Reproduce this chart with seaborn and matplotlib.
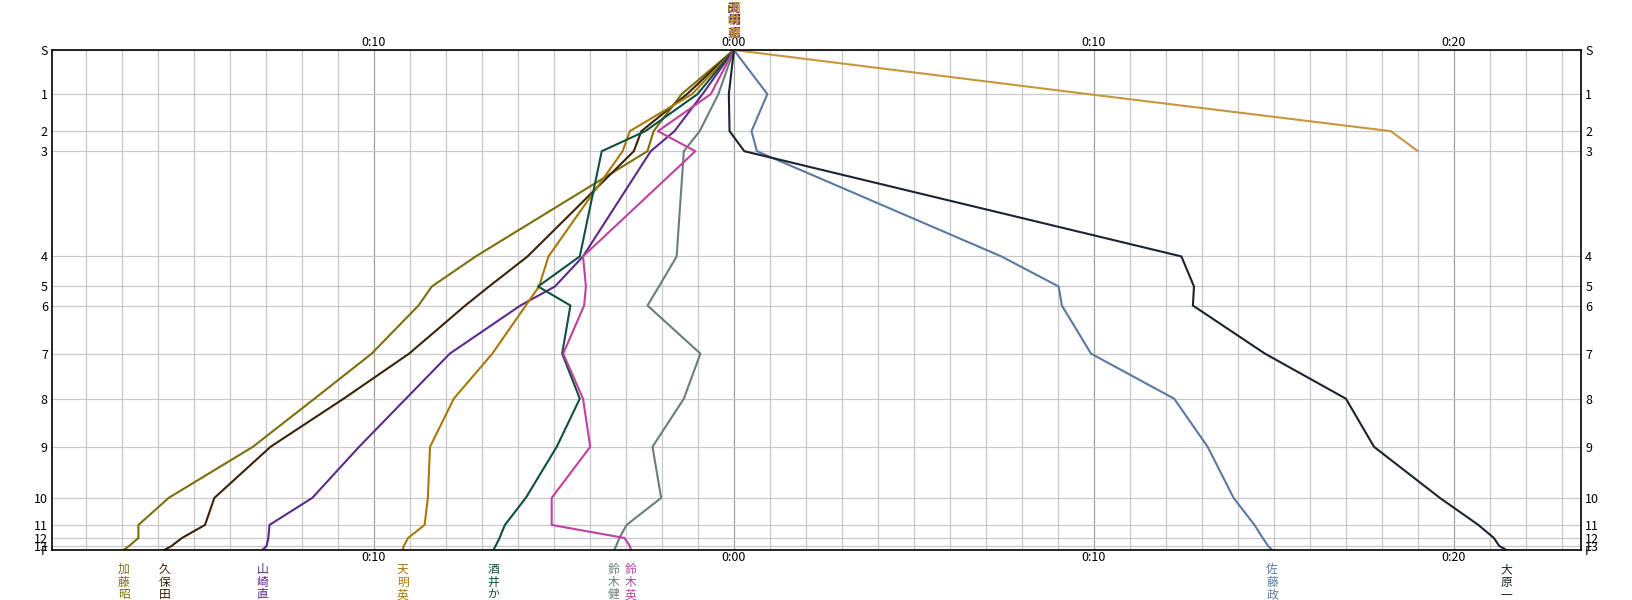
import numpy as np
import pandas as pd
import matplotlib
matplotlib.use("Agg")
import matplotlib.pyplot as plt
import matplotlib.transforms as mtransforms
from matplotlib.ticker import MultipleLocator
import seaborn as sns

# controls and their standard (cumulative) position, minutes
controls = ["S", "1", "2", "3", "4", "5", "6", "7", "8", "9", "10", "11", "12", "13", "F"]
std_pos = [0, 4.4, 8.1, 10.1, 20.6, 23.6, 25.5, 30.3, 34.8, 39.6, 44.7, 47.4, 48.7, 49.5, 49.9]

# time difference to the reference at each control, minutes
kato = [0, -1.45, -2.23, -2.40, -7.17, -8.39, -8.76, -10.06, -11.65, -13.36, -15.70, -16.54, -16.54, -16.80, -16.95]
kubota = [0, -1.30, -2.57, -2.78, -5.73, -6.80, -7.46, -9.02, -10.84, -12.87, -14.43, -14.69, -15.33, -15.62, -15.82]
yamazaki = [0, -0.87, -1.65, -2.31, -4.19, -4.97, -5.93, -7.89, -9.11, -10.41, -11.71, -12.90, -12.93, -12.98, -13.10]
tenmyo = [0, -1.16, -2.89, -3.09, -5.15, -5.41, -5.78, -6.71, -7.78, -8.44, -8.50, -8.59, -9.05, -9.17, -9.20]
sakai = [0, -1.01, -2.46, -3.67, -4.28, -5.44, -4.54, -4.77, -4.28, -4.92, -5.78, -6.36, -6.51, -6.62, -6.68]
suzuki_ken = [0, -0.43, -0.95, -1.39, -1.59, -2.08, -2.40, -0.93, -1.39, -2.26, -2.02, -2.98, -3.18, -3.27, -3.33]
suzuki_ei = [0, -0.64, -2.11, -1.07, -4.19, -4.11, -4.16, -4.74, -4.19, -3.99, -5.06, -5.06, -3.04, -2.89, -2.86]
sato = [0, 0.93, 0.49, 0.64, 7.43, 9.02, 9.11, 9.92, 12.23, 13.16, 13.88, 14.46, 14.69, 14.84, 14.95]
ohara = [0, -0.14, -0.12, 0.29, 12.43, 12.78, 12.75, 14.75, 17.00, 17.78, 19.61, 20.68, 21.11, 21.26, 21.46]
dnf = [0, 9.83, 18.25, 19.0]  # runner that stopped after control 3

names = ["加藤昭", "久保田", "山崎直", "天明英", "酒井か", "鈴木健", "鈴木英", "佐藤政", "大原一"]
series = [kato, kubota, yamazaki, tenmyo, sakai, suzuki_ken, suzuki_ei, sato, ohara]
colors = ["#7d6e08", "#3a2408", "#5c2a8c", "#a87808", "#0f5040", "#6a7e7e", "#c040a0", "#5a7aa0", "#1a2430"]

x_ticks = [-10, 0, 10, 20]
x_labels = ["0:10", "0:00", "0:10", "0:20"]

# long table for seaborn
rows = []
for nm, vals in zip(names, series):
    for c, p, v in zip(controls, std_pos, vals):
        rows.append({"runner": nm, "control": c, "pos": p, "diff": v})
for c, p, v in zip(controls, std_pos, dnf):
    rows.append({"runner": "棄権", "control": c, "pos": p, "diff": v})
df = pd.DataFrame(rows)

palette = dict(zip(names, colors))
palette["棄権"] = "#c89640"

sns.set_style("white")
plt.rcParams["font.family"] = ["Noto Sans CJK JP", "DejaVu Sans"]

fig = plt.figure(figsize=(16.33, 6), dpi=100)
ax = fig.add_axes([52 / 1633, 50 / 600, 1529 / 1633, 500 / 600])

# grid: every minute light, every 10 minutes darker, one line per control
ax.xaxis.set_minor_locator(MultipleLocator(1))
ax.grid(which="minor", axis="x", color="#c8c8c8", lw=0.9)
ax.grid(which="major", axis="x", color="#a0a0a0", lw=0.9)
ax.grid(which="major", axis="y", color="#c8c8c8", lw=0.9)
ax.set_axisbelow(True)

sns.lineplot(data=df, x="diff", y="pos", hue="runner", palette=palette,
             sort=False, estimator=None, legend=False, lw=1.5, ax=ax)

ax.set_xlim(-18.94, 23.53)
ax.set_ylim(std_pos[-1], 0)

ax.set_xticks(x_ticks)
ax.set_xticklabels(x_labels)
ax.set_yticks(std_pos)
ax.set_yticklabels(controls)
ax.tick_params(axis="both", which="both", length=0, labelsize=9, colors="black")
ax.tick_params(axis="x", top=True, labeltop=True, pad=1)
ax.tick_params(axis="y", right=True, labelright=True, pad=3)
ax.set_xlabel("")
ax.set_ylabel("")

for sp in ax.spines.values():
    sp.set_visible(True)
    sp.set_color("black")
    sp.set_linewidth(1.2)

# runner names at the finish, written vertically
trans = mtransforms.blended_transform_factory(ax.transData, ax.transAxes)
for nm, vals, col in zip(names, series, colors):
    ax.text(vals[-1], -0.026, "\n".join(nm), transform=trans, ha="center", va="top",
            fontsize=8.5, color=col, linespacing=0.97)

# overlapping names at the top (runners without a finish)
top_names = ["山崎英", "天明昭", "酒井健"]
top_cols = ["#7d6e08", "#5c2a8c", "#c89640"]
for k, (nm, col) in enumerate(zip(top_names, top_cols)):
    ax.text(0.02 * (k - 1), 1.02, "\n".join(nm), transform=trans, ha="center", va="bottom",
            fontsize=8.5, color=col, linespacing=0.97, fontweight="bold")

fig.savefig("out.png", dpi=100)
